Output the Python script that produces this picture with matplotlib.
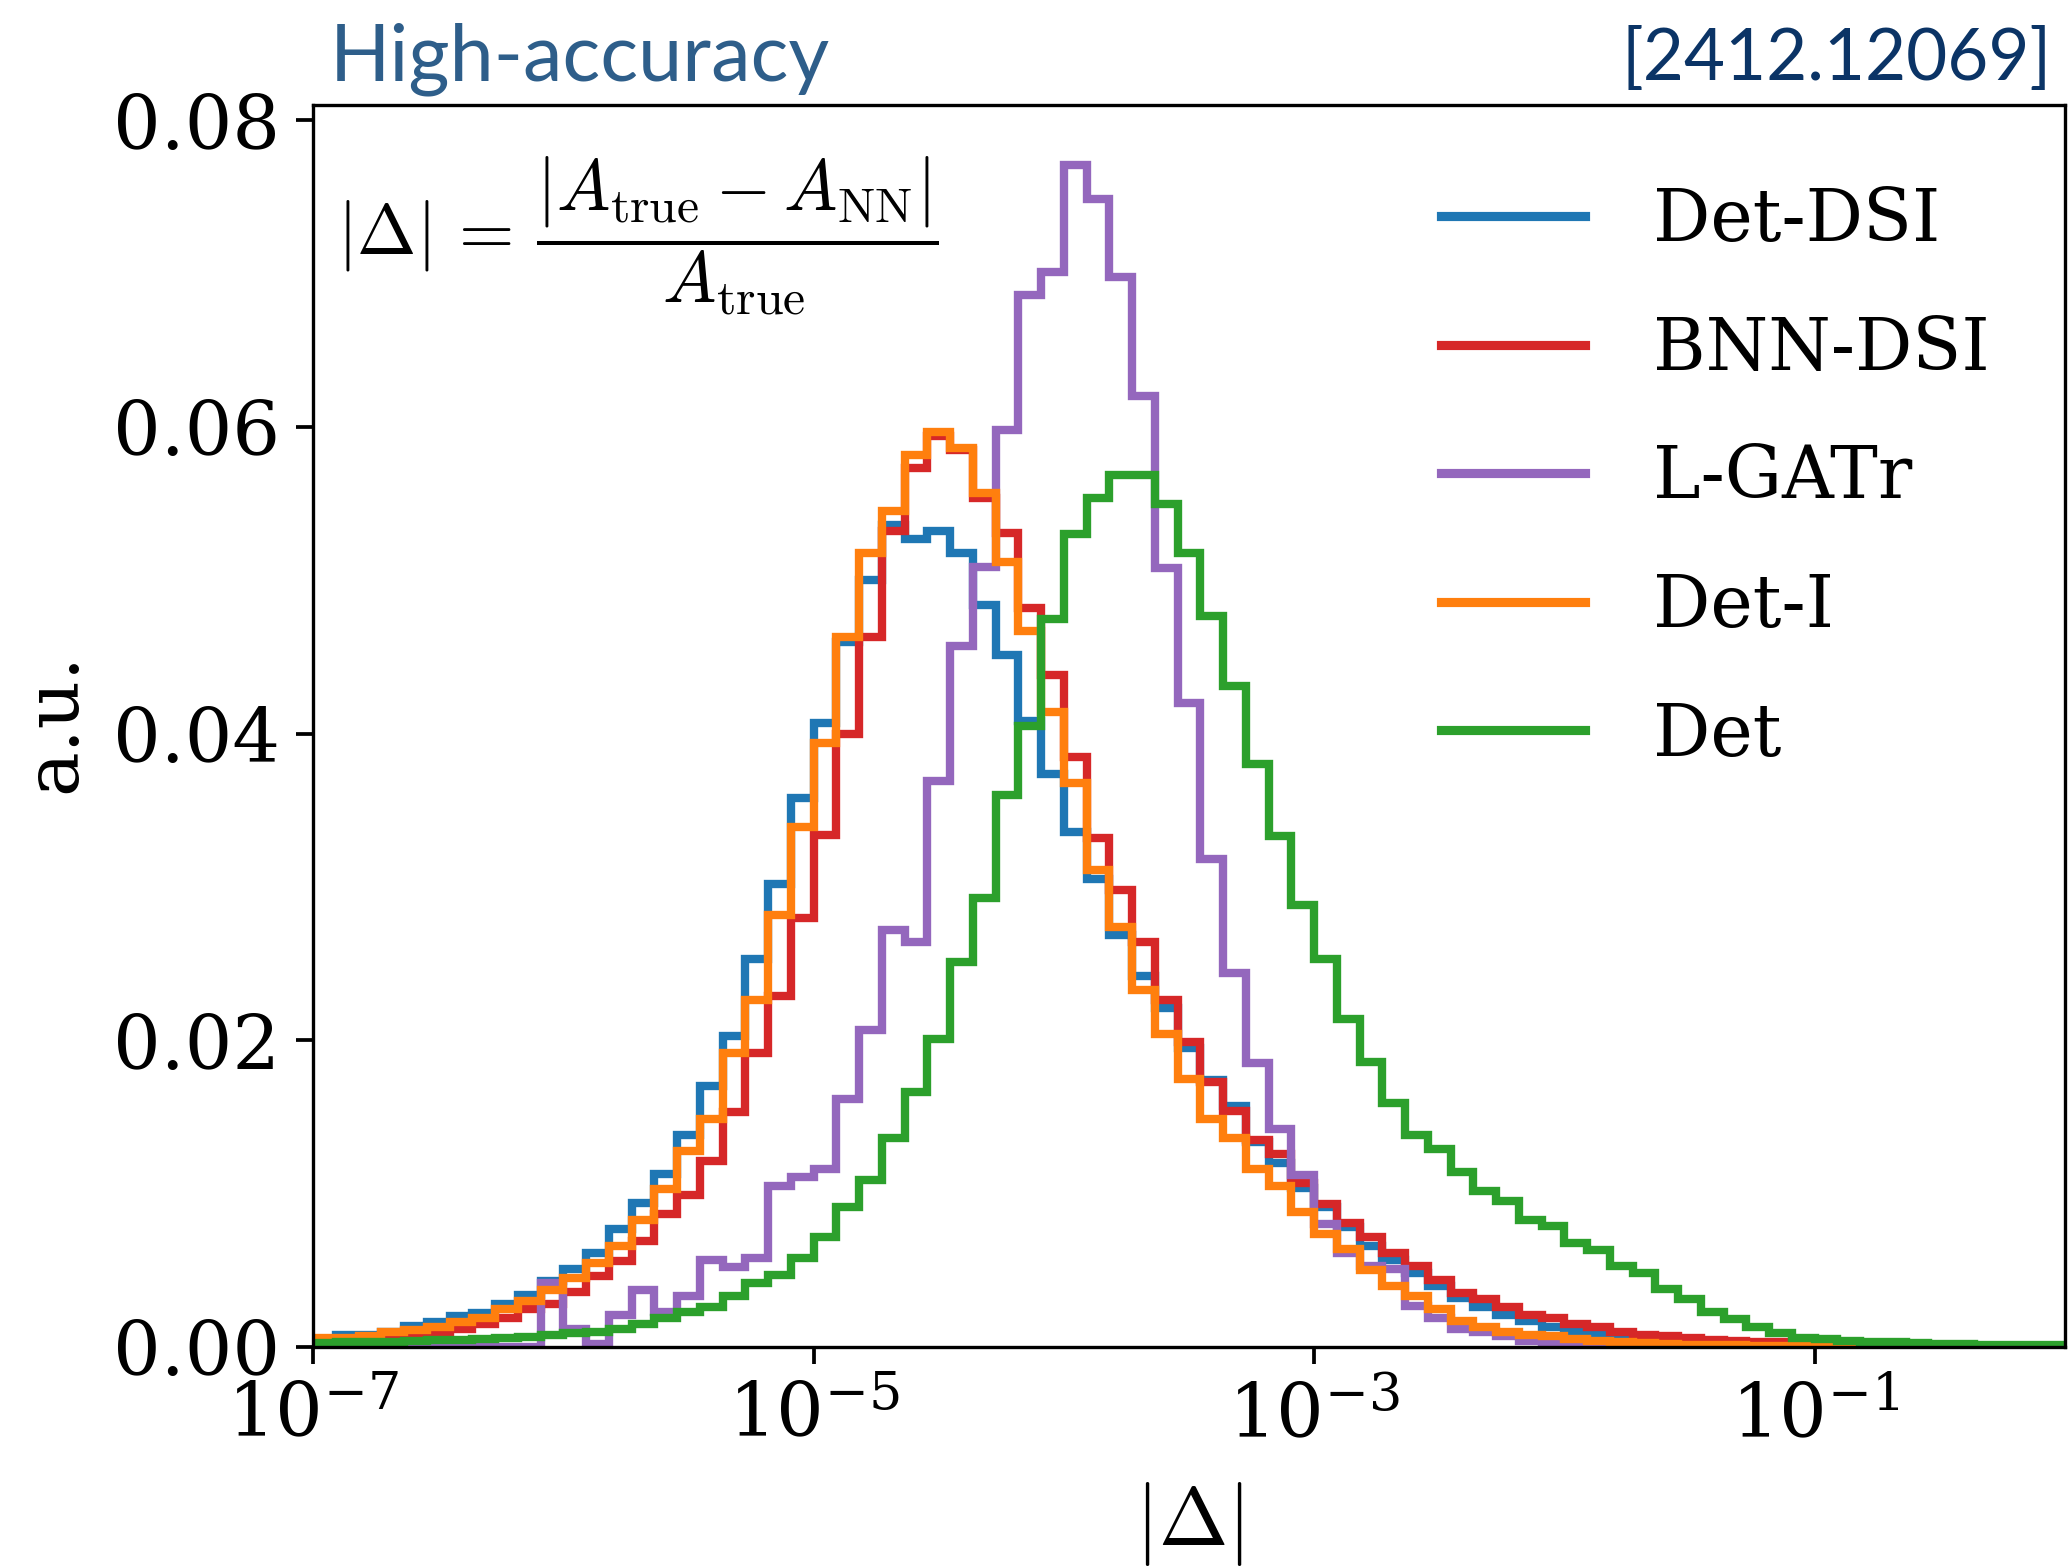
import numpy as np
import matplotlib.pyplot as plt
from matplotlib.lines import Line2D

# 77 log-spaced bins from 1e-7 to 1
edges = np.logspace(-7, 0, 78)

det_dsi = [0.0005, 0.0008, 0.0008, 0.0010, 0.0014, 0.0016, 0.0020, 0.0022, 0.0028, 0.0034,
           0.0043, 0.0051, 0.0061, 0.0077, 0.0094, 0.0113, 0.0138, 0.0170, 0.0203, 0.0253,
           0.0302, 0.0358, 0.0407, 0.0460, 0.0500, 0.0536, 0.0527, 0.0532, 0.0518, 0.0484,
           0.0451, 0.0408, 0.0374, 0.0336, 0.0305, 0.0269, 0.0242, 0.0221, 0.0195, 0.0174,
           0.0157, 0.0134, 0.0120, 0.0104, 0.0091, 0.0078, 0.0066, 0.0057, 0.0048, 0.0040,
           0.0032, 0.0026, 0.0021, 0.0017, 0.0013, 0.0010, 0.0008, 0.0006, 0.0005, 0.0004,
           0.00035, 0.0003, 0.0002, 0.0002, 0.00015, 0.00012, 0.0001, 0.00008, 0.00006, 0.00005,
           0.00004, 0.00003, 0.00002, 0.00002, 0.00001, 0.00001, 0.00001]

bnn_dsi = [0.0004, 0.0005, 0.0005, 0.0007, 0.0007, 0.0010, 0.0012, 0.0015, 0.0019, 0.0025,
           0.0028, 0.0036, 0.0046, 0.0056, 0.0069, 0.0087, 0.0099, 0.0121, 0.0153, 0.0192,
           0.0229, 0.0280, 0.0334, 0.0400, 0.0463, 0.0532, 0.0573, 0.0594, 0.0585, 0.0554,
           0.0531, 0.0482, 0.0438, 0.0385, 0.0332, 0.0298, 0.0264, 0.0226, 0.0199, 0.0173,
           0.0154, 0.0135, 0.0126, 0.0107, 0.0093, 0.0081, 0.0072, 0.0061, 0.0053, 0.0044,
           0.0035, 0.0031, 0.0026, 0.0021, 0.0019, 0.0015, 0.0013, 0.0010, 0.0008, 0.0007,
           0.0006, 0.00045, 0.0004, 0.00035, 0.0003, 0.00025, 0.0002, 0.00015, 0.0001, 0.00008,
           0.00006, 0.00005, 0.00004, 0.00003, 0.00002, 0.00002, 0.00001]

lgatr = [0, 0, 0, 0, 0, 0, 0, 0, 0, 0,
         0.0042, 0.0012, 0.0002, 0.0021, 0.0037, 0.0023, 0.0033, 0.0057, 0.0052, 0.0058,
         0.0105, 0.0111, 0.0116, 0.0162, 0.0207, 0.0272, 0.0264, 0.0369, 0.0457, 0.0509,
         0.0598, 0.0686, 0.0701, 0.0771, 0.0749, 0.0698, 0.0620, 0.0508, 0.0420, 0.0318,
         0.0244, 0.0185, 0.0142, 0.0112, 0.0080, 0.0061, 0.0053, 0.0051, 0.0027, 0.0019,
         0.0012, 0.0010, 0.0007, 0.0004, 0.0002, 0.0001, 0.00005, 0.00003, 0.00002, 0.00001,
         0, 0, 0, 0, 0, 0, 0, 0, 0, 0,
         0, 0, 0, 0, 0, 0, 0]

det_i = [0.0006, 0.0006, 0.0007, 0.0010, 0.0011, 0.0013, 0.0016, 0.0019, 0.0025, 0.0030,
         0.0037, 0.0045, 0.0055, 0.0066, 0.0083, 0.0103, 0.0128, 0.0149, 0.0192, 0.0226,
         0.0282, 0.0339, 0.0394, 0.0463, 0.0518, 0.0545, 0.0582, 0.0597, 0.0586, 0.0557,
         0.0512, 0.0467, 0.0414, 0.0368, 0.0311, 0.0274, 0.0233, 0.0204, 0.0175, 0.0149,
         0.0136, 0.0116, 0.0105, 0.0088, 0.0074, 0.0064, 0.0050, 0.0040, 0.0033, 0.0025,
         0.0017, 0.0013, 0.0010, 0.0008, 0.0007, 0.0005, 0.0004, 0.0003, 0.00025, 0.0002,
         0.00015, 0.00012, 0.0001, 0.00008, 0.00006, 0.00005, 0.00004, 0.00003, 0.00002, 0.00002,
         0.00001, 0.00001, 0, 0, 0, 0, 0]

det = [0.00028, 0.0003, 0.00033, 0.00035, 0.0004, 0.00043, 0.00048, 0.00054, 0.0006, 0.00067,
       0.00078, 0.0009, 0.0010, 0.0012, 0.0015, 0.0019, 0.0023, 0.0026, 0.0033, 0.0042,
       0.0047, 0.0058, 0.0072, 0.0091, 0.0109, 0.0136, 0.0166, 0.0201, 0.0251, 0.0293,
       0.0360, 0.0405, 0.0475, 0.0530, 0.0554, 0.0569, 0.0569, 0.0550, 0.0518, 0.0477,
       0.0431, 0.0380, 0.0333, 0.0288, 0.0253, 0.0214, 0.0186, 0.0159, 0.0138, 0.0129,
       0.0114, 0.0102, 0.0095, 0.0083, 0.0079, 0.0068, 0.0063, 0.0053, 0.0048, 0.0038,
       0.0031, 0.0023, 0.0018, 0.0013, 0.0009, 0.0006, 0.0005, 0.0004, 0.0003, 0.0003,
       0.00024, 0.0002, 0.00018, 0.00015, 0.00012, 0.0001, 0.0001]

labels = ['Det-DSI', 'BNN-DSI', 'L-GATr', 'Det-I', 'Det']
colors = ['#1f77b4', '#d62728', '#9467bd', '#ff7f0e', '#2ca02c']
series = [det_dsi, bnn_dsi, lgatr, det_i, det]

plt.rcParams['font.family'] = 'DejaVu Serif'
plt.rcParams['mathtext.fontset'] = 'dejavuserif'

fig = plt.figure(figsize=(2069 / 300, 1567 / 300), dpi=300)
ax = fig.add_axes([0.1513, 0.1404, 0.8467, 0.7926])

for vals, c, lab in zip(series, colors, labels):
    ax.stairs(vals, edges, color=c, lw=2.0, label=lab)

ax.set_xscale('log')
ax.set_xlim(1e-7, 1)
ax.set_ylim(0, 0.081)
ax.set_xticks([1e-7, 1e-5, 1e-3, 1e-1])
ax.minorticks_off()
ax.set_yticks([0, 0.02, 0.04, 0.06, 0.08])
ax.set_yticklabels(['0.00', '0.02', '0.04', '0.06', '0.08'])
ax.tick_params(labelsize=18, length=4, width=0.9, pad=4)

# legend with line handles
handles = [Line2D([], [], color=c, lw=2.2) for c in colors]
ax.legend(handles, labels, loc='upper left', bbox_to_anchor=(0.644, 0.935),
          frameon=False, fontsize=17.2, handlelength=2.0, handletextpad=0.95,
          labelspacing=0.81, borderpad=0, borderaxespad=0)

# formula
ax.text(0.0135, 0.895,
        r'$|\Delta|\,=\,\dfrac{|A_{\rm true} - A_{\rm NN}|}{A_{\rm true}}$',
        transform=ax.transAxes, ha='left', va='center', fontsize=17.1,
        math_fontfamily='cm')

fig.text(55 / 2069, 0.5386, 'a.u.', rotation=90, ha='center', va='center', fontsize=18)
fig.text(0.5747, 1 - 1524 / 1567, r'$|\Delta|$', ha='center', va='center',
         fontsize=20, math_fontfamily='cm')

fig.text(330 / 2069, 1 - 80 / 1567, 'High-accuracy', ha='left', va='baseline',
         color='#2e5e8a', fontsize=19, family='Lato')
fig.text(2052 / 2069, 1 - 80 / 1567, '[2412.12069]', ha='right', va='baseline',
         color='#0b3466', fontsize=17, family='Lato')

fig.savefig('out.png', dpi=300)
